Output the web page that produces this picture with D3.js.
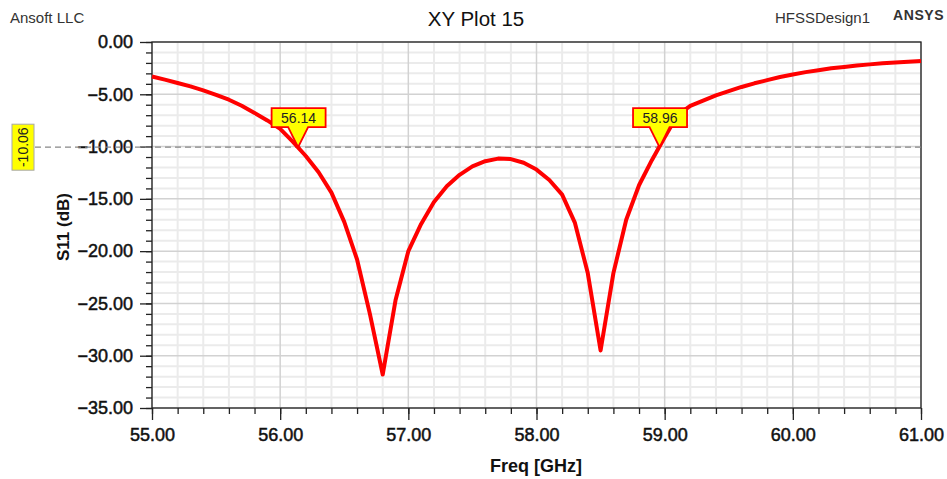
<!DOCTYPE html>
<html><head><meta charset="utf-8">
<script src="https://cdn.jsdelivr.net/npm/d3@7"></script>
<style>
html,body{margin:0;padding:0;background:#fff;}
svg{display:block;font-family:"Liberation Sans",Arial,sans-serif;}
</style></head>
<body>
<svg id="chart" width="947" height="479"></svg>
<script>
// Data (frequency in GHz, S11 in dB)
const freq = [55.0,55.1,55.2,55.3,55.4,55.5,55.6,55.7,55.8,55.9,56.0,56.1,56.2,56.3,56.4,56.5,56.6,56.7,56.8,56.9,57.0,57.1,57.2,57.3,57.4,57.5,57.6,57.7,57.8,57.9,58.0,58.1,58.2,58.3,58.4,58.5,58.6,58.7,58.8,58.9,59.0,59.1,59.2,59.3,59.4,59.5,59.6,59.7,59.8,59.9,60.0,60.1,60.2,60.3,60.4,60.5,60.6,60.7,60.8,60.9,61.0];
const s11  = [-3.30,-3.60,-3.92,-4.25,-4.62,-5.05,-5.52,-6.10,-6.78,-7.50,-8.30,-9.55,-10.90,-12.45,-14.40,-17.20,-20.80,-26.00,-31.80,-24.70,-20.00,-17.40,-15.30,-13.80,-12.70,-11.90,-11.40,-11.15,-11.20,-11.55,-12.20,-13.20,-14.60,-17.30,-22.10,-29.50,-22.10,-17.00,-13.70,-11.30,-9.10,-7.00,-6.10,-5.60,-5.10,-4.70,-4.30,-3.95,-3.65,-3.35,-3.10,-2.88,-2.70,-2.52,-2.38,-2.25,-2.14,-2.04,-1.96,-1.89,-1.82];
const markerFreq = [56.14, 58.96];
const markerLabels = ["56.14", "58.96"];
const markerLevel = -10.06;
const markerLevelLabel = "-10.06";
const xTicks = [55,56,57,58,59,60,61];
const yTicks = [0,-5,-10,-15,-20,-25,-30,-35];
const titleText = "XY Plot 15";
const xLabelText = "Freq [GHz]";
const yLabelText = "S11 (dB)";

const svg = d3.select("#chart");
const L = 152, R = 921, T = 42, B = 408;
const x = d3.scaleLinear().domain([55, 61]).range([L, R]);
const y = d3.scaleLinear().domain([-35, 0]).range([B, T]);

// Grid
const xMinor = d3.range(55, 61.0001, 0.2).map(v => +v.toFixed(2));
const yMinor = d3.range(-35, 0.0001, 1);
const g = svg.append("g");
g.selectAll(".xm").data(xMinor.filter(v => Math.abs(v - Math.round(v)) > 1e-6)).join("line")
  .attr("x1", d => x(d)).attr("x2", d => x(d)).attr("y1", T).attr("y2", B)
  .attr("stroke", "#ebebeb").attr("stroke-width", 2);
g.selectAll(".ym").data(yMinor.filter(v => v % 5 !== 0)).join("line")
  .attr("y1", d => y(d)).attr("y2", d => y(d)).attr("x1", L).attr("x2", R)
  .attr("stroke", "#ebebeb").attr("stroke-width", 2);
g.selectAll(".xM").data(xTicks).join("line")
  .attr("x1", d => x(d)).attr("x2", d => x(d)).attr("y1", T).attr("y2", B)
  .attr("stroke", "#d2d2d2").attr("stroke-width", 1.5);
g.selectAll(".yM").data(yTicks).join("line")
  .attr("y1", d => y(d)).attr("y2", d => y(d)).attr("x1", L).attr("x2", R)
  .attr("stroke", "#d2d2d2").attr("stroke-width", 1.5);

// Axes
const fmt = d3.format(".2f");
const xAxis = d3.axisBottom(x).tickValues(xTicks).tickFormat(fmt).tickSize(12).tickPadding(8);
const yAxis = d3.axisLeft(y).tickValues(yTicks).tickFormat(fmt).tickSize(12).tickPadding(7);
const xMinorAxis = d3.axisBottom(x).tickValues(xMinor).tickFormat("").tickSize(6);
const yMinorAxis = d3.axisLeft(y).tickValues(yMinor).tickFormat("").tickSize(6);

function styleAxis(sel) {
  sel.select(".domain").remove();
  sel.selectAll("line").attr("stroke", "#222").attr("stroke-width", 1.3);
  sel.selectAll("text").attr("fill", "#111").style("font-size", "18px")
    .attr("stroke", "#111").attr("stroke-width", 0.5);
}
svg.append("g").attr("transform", `translate(0,${B})`).call(xMinorAxis).call(styleAxis);
svg.append("g").attr("transform", `translate(${L},0)`).call(yMinorAxis).call(styleAxis);
svg.append("g").attr("transform", `translate(0,${B})`).call(xAxis).call(styleAxis)
  .selectAll("text").attr("dy", "0.71em");
svg.append("g").attr("transform", `translate(${L},0)`).call(yAxis).call(styleAxis);

// Frame
svg.append("rect").attr("x", L).attr("y", T).attr("width", R - L).attr("height", B - T)
  .attr("fill", "none").attr("stroke", "#222").attr("stroke-width", 1.3);

// Marker level dashed line
svg.append("line").attr("x1", 35).attr("x2", R).attr("y1", y(markerLevel)).attr("y2", y(markerLevel))
  .attr("stroke", "#888").attr("stroke-width", 1.2).attr("stroke-dasharray", "6,4");

// Curve
const data = freq.map((f, i) => ({f, v: s11[i]}));
svg.append("path").datum(data)
  .attr("fill", "none").attr("stroke", "#ff0000").attr("stroke-width", 4)
  .attr("stroke-linejoin", "round")
  .attr("d", d3.line().x(d => x(d.f)).y(d => y(d.v)));

// Level label on left
const lvY = y(markerLevel);
svg.append("rect").attr("x", 12).attr("y", lvY - 23).attr("width", 22).attr("height", 46)
  .attr("fill", "#ffff00").attr("stroke", "#a8a8a8").attr("stroke-width", 1);
svg.append("text").attr("transform", `translate(28,${lvY}) rotate(-90)`)
  .attr("text-anchor", "middle").style("font-size", "14px").attr("fill", "#222")
  .text(markerLevelLabel);

// Markers
markerFreq.forEach((f, i) => {
  const px = x(f), py = y(markerLevel);
  const w = 54, h = 19, bot = py - 20, top = bot - h;
  const l = px - w / 2 + 0.5, r = px + w / 2 + 0.5;
  const p = `M${l},${top}L${r},${top}L${r},${bot}L${px + 10},${bot}L${px},${py}L${px - 10},${bot}L${l},${bot}Z`;
  svg.append("path").attr("d", p).attr("fill", "#ffff00").attr("stroke", "#ff0000")
    .attr("stroke-width", 1.8).attr("stroke-linejoin", "miter");
  svg.append("text").attr("x", (l + r) / 2).attr("y", bot - 4.5).attr("text-anchor", "middle")
    .style("font-size", "14px").attr("fill", "#222").text(markerLabels[i]);
});

// Titles and labels
svg.append("text").attr("x", 476).attr("y", 26).attr("text-anchor", "middle")
  .style("font-size", "20.5px").attr("fill", "#111").text(titleText);
svg.append("text").attr("x", 10).attr("y", 23).style("font-size", "15px").attr("fill", "#333").text("Ansoft LLC");
svg.append("text").attr("x", 775).attr("y", 23).style("font-size", "15px").attr("fill", "#333").text("HFSSDesign1");
svg.append("text").attr("x", 893).attr("y", 20).style("font-size", "14px").style("font-weight", "bold")
  .style("letter-spacing", "0.6px").attr("fill", "#333").text("ANSYS");
svg.append("text").attr("x", 536).attr("y", 472).attr("text-anchor", "middle")
  .style("font-size", "18px").style("font-weight", "bold").attr("fill", "#111").text(xLabelText);
svg.append("text").attr("transform", "translate(69,227) rotate(-90)").attr("text-anchor", "middle")
  .style("font-size", "17px").style("font-weight", "bold").attr("fill", "#111").text(yLabelText);
</script>
</body></html>
